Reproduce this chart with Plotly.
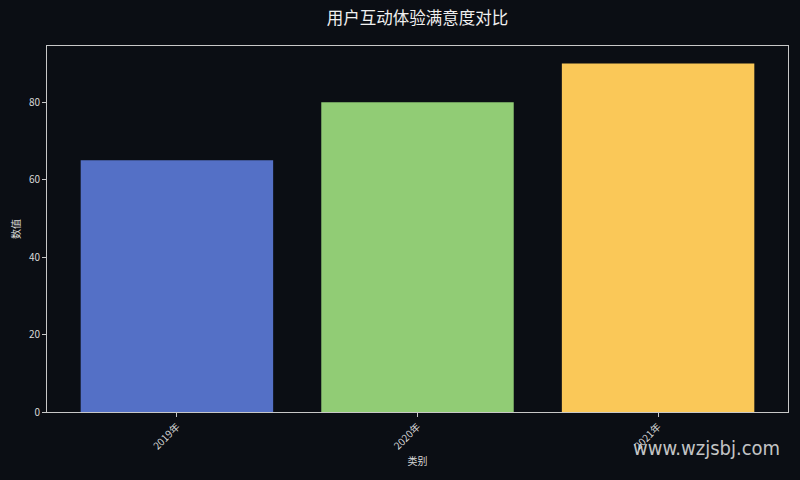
import plotly.graph_objects as go

# 数据
categories = ['2019年', '2020年', '2021年']
values = [65, 80, 90]
colors = ['#5470c6', '#91cc75', '#fac858']
y_ticks = [0, 20, 40, 60, 80]

bg = '#0b0e14'
font = 'Noto Sans CJK SC, Noto Sans, sans-serif'
axis_line = '#c8c8c8'
tick_color = '#d8d8d8'

fig = go.Figure(go.Bar(
    x=list(range(len(categories))),
    y=values,
    width=0.8,
    marker=dict(color=colors, line=dict(width=0)),
))

fig.update_layout(
    width=800, height=480,
    paper_bgcolor=bg, plot_bgcolor=bg,
    margin=dict(l=47, r=12, t=46, b=68),
    font=dict(family=font, color=tick_color, size=10),
    title=dict(text='用户互动体验满意度对比', x=(47 + 788) / 2 / 800, xanchor='center',
               y=1 - 18 / 480, yanchor='middle',
               font=dict(size=16.5, color='#f0f0f0', family=font)),
    showlegend=False,
    annotations=[dict(text='www.wzjsbj.com', xref='paper', yref='paper',
                      x=0.992, y=-0.098, xanchor='right', yanchor='middle',
                      showarrow=False,
                      font=dict(size=20, color='rgba(230,230,230,0.85)',
                                family='DejaVu Sans Condensed, Liberation Sans Narrow, Noto Sans'))],
)

fig.update_xaxes(
    range=[-0.54, 2.54],
    tickvals=list(range(len(categories))), ticktext=categories,
    tickangle=-45,
    showgrid=False, zeroline=False,
    showline=True, mirror=True, linecolor=axis_line, linewidth=1,
    ticks='outside', ticklen=4, tickcolor=axis_line,
    title=dict(text='类别', font=dict(size=10, color=tick_color), standoff=6),
)
fig.update_yaxes(
    range=[0, 94.5],
    tickvals=y_ticks,
    showgrid=False, zeroline=False,
    showline=True, mirror=True, linecolor=axis_line, linewidth=1,
    ticks='outside', ticklen=4, tickcolor=axis_line,
    title=dict(text='数值', font=dict(size=10, color=tick_color), standoff=6),
)

# 去掉页面边距，让图表贴满窗口
fig.write_html('out.html',
               config={'displayModeBar': False},
               post_script="document.body.style.margin='0';"
                           "document.body.style.background='%s';" % bg)
